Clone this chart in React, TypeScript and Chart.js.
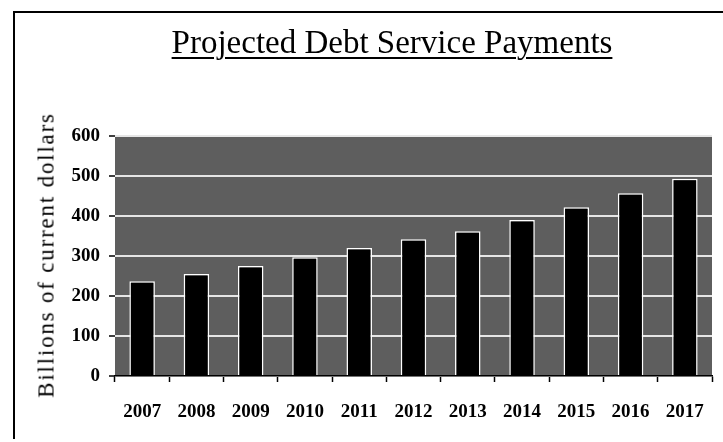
import React, { useEffect, useRef } from "react";
import { Chart, registerables } from "chart.js";

Chart.register(...registerables);

const years = ["2007", "2008", "2009", "2010", "2011", "2012", "2013", "2014", "2015", "2016", "2017"];
const payments = [237, 255, 275, 297, 320, 342, 362, 390, 422, 457, 493];
const yMin = 0;
const yMax = 600;
const yStep = 100;
const titleText = "Projected Debt Service Payments";
const yAxisLabel = "Billions of current dollars";

const serif = "'Liberation Serif', 'Times New Roman', serif";

const plotBg = {
  id: "plotBg",
  beforeDraw(chart: any) {
    const { ctx, chartArea } = chart;
    if (!chartArea) return;
    ctx.save();
    ctx.fillStyle = "#5e5e5e";
    ctx.fillRect(chartArea.left, chartArea.top, chartArea.right - chartArea.left, chartArea.bottom - chartArea.top);
    ctx.restore();
  },
};

export default function App() {
  const ref = useRef<HTMLCanvasElement | null>(null);
  useEffect(() => {
    if (!ref.current) return;
    const chart = new Chart(ref.current, {
      type: "bar",
      data: {
        labels: years,
        datasets: [
          {
            data: payments,
            backgroundColor: "#000000",
            borderColor: "#ffffff",
            borderWidth: 1.5,
            barPercentage: 0.47,
            categoryPercentage: 1,
          },
        ],
      },
      options: {
        animation: false,
        responsive: false,
        maintainAspectRatio: false,
        layout: { padding: { left: 0, right: 3, top: 136, bottom: 0 } },
        plugins: {
          legend: { display: false },
          tooltip: { enabled: false },
          title: { display: false },
        },
        scales: {
          x: {
            afterFit: (s: any) => {
              s.height = 66;
            },
            grid: {
              display: true,
              drawOnChartArea: false,
              drawTicks: true,
              tickLength: 6,
              tickColor: "#000",
              tickWidth: 1.5,
              offset: true,
            },
            border: { display: true, color: "#000", width: 1.5 },
            ticks: {
              color: "#000",
              padding: 19,
              font: { family: serif, size: 19, weight: "bold" },
            },
          },
          y: {
            min: yMin,
            max: yMax,
            afterFit: (s: any) => {
              s.width = 115;
            },
            grid: {
              color: "#e6e6e6",
              lineWidth: 2,
              tickLength: 6,
              tickColor: "#000",
              tickWidth: 1.5,
            },
            border: { display: false },
            ticks: {
              stepSize: yStep,
              color: "#000",
              padding: 9,
              font: { family: serif, size: 19, weight: "bold" },
            },
          },
        },
      },
      plugins: [plotBg],
    });
    return () => chart.destroy();
  }, []);

  return (
    <div style={{ position: "absolute", left: 0, top: 0, width: 723, height: 442, overflow: "hidden", background: "#fff" }}>
      <div style={{ position: "absolute", left: 13, top: 11, width: 720, height: 426, borderLeft: "2px solid #000", borderTop: "2px solid #000" }} />
      <canvas ref={ref} width={723} height={442} style={{ position: "absolute", left: 0, top: 0, width: 723, height: 442 }} />
      <div
        style={{
          position: "absolute",
          left: 392,
          top: 26,
          transform: "translateX(-50%)",
          whiteSpace: "nowrap",
          fontFamily: serif,
          fontSize: 33,
          lineHeight: 1,
          color: "#000",
          textDecoration: "underline",
          textDecorationThickness: "2px",
          textUnderlineOffset: "4px",
        }}
      >
        {titleText}
      </div>
      <div
        style={{
          position: "absolute",
          left: 46,
          top: 255,
          transform: "translate(-50%, -50%) rotate(-90deg)",
          whiteSpace: "nowrap",
          fontFamily: serif,
          fontSize: 23,
          lineHeight: 1,
          letterSpacing: "1.8px",
          color: "#000",
        }}
      >
        {yAxisLabel}
      </div>
    </div>
  );
}
